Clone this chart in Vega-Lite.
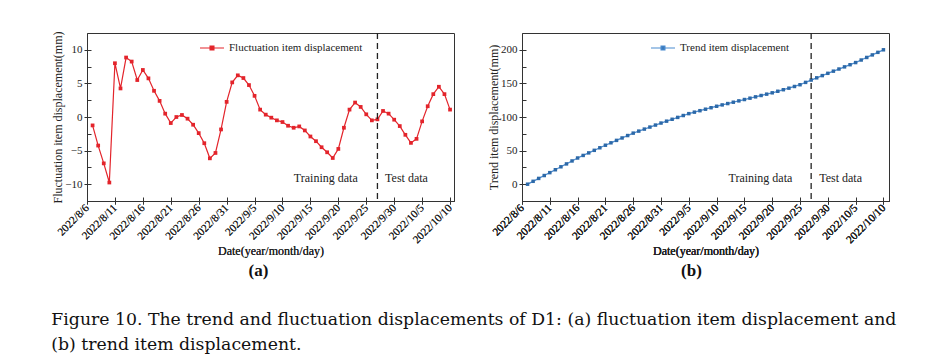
{
  "$schema": "https://vega.github.io/schema/vega-lite/v6.json",
  "background": "white",
  "padding": {"left": 51, "top": 30, "right": 5, "bottom": 5},
  "bounds": "flush",
  "spacing": 68,
  "resolve": {"scale": {"color": "independent"}, "legend": {"color": "independent"}},
  "title": {
    "text": ["Figure 10. The trend and fluctuation displacements of D1: (a) fluctuation item displacement and", "(b) trend item displacement."],
    "orient": "bottom", "anchor": "start", "frame": "bounds",
    "font": "DejaVu Serif", "fontSize": 17.3, "fontWeight": "normal", "lineHeight": 25, "color": "#111", "offset": 32
  },
  "config": {
    "view": {"stroke": "#333", "strokeWidth": 1},
    "axis": {"labelFont": "Liberation Serif", "titleFont": "Liberation Serif", "labelFontSize": 11, "titleFontSize": 12, "titleFontWeight": "normal", "labelColor": "#222", "titleColor": "#222", "domainColor": "#333", "tickColor": "#333", "grid": false, "tickSize": 3},
    "legend": {"labelFont": "Liberation Serif", "labelFontSize": 11, "labelColor": "#222", "padding": 0, "title": null},
    "text": {"font": "Liberation Serif"}
  },
  "datasets": {
    "fluct": [
      {"date": "2022-08-07", "value": -1.25}, {"date": "2022-08-08", "value": -4.25}, {"date": "2022-08-09", "value": -6.9}, {"date": "2022-08-10", "value": -9.75},
      {"date": "2022-08-11", "value": 8.0}, {"date": "2022-08-12", "value": 4.25}, {"date": "2022-08-13", "value": 8.85}, {"date": "2022-08-14", "value": 8.25},
      {"date": "2022-08-15", "value": 5.5}, {"date": "2022-08-16", "value": 7.0}, {"date": "2022-08-17", "value": 5.75}, {"date": "2022-08-18", "value": 3.9},
      {"date": "2022-08-19", "value": 2.4}, {"date": "2022-08-20", "value": 0.5}, {"date": "2022-08-21", "value": -0.9}, {"date": "2022-08-22", "value": 0.0},
      {"date": "2022-08-23", "value": 0.3}, {"date": "2022-08-24", "value": -0.25}, {"date": "2022-08-25", "value": -1.15}, {"date": "2022-08-26", "value": -2.4},
      {"date": "2022-08-27", "value": -3.9}, {"date": "2022-08-28", "value": -6.15}, {"date": "2022-08-29", "value": -5.35}, {"date": "2022-08-30", "value": -1.85},
      {"date": "2022-08-31", "value": 2.25}, {"date": "2022-09-01", "value": 5.15}, {"date": "2022-09-02", "value": 6.2}, {"date": "2022-09-03", "value": 5.8},
      {"date": "2022-09-04", "value": 4.75}, {"date": "2022-09-05", "value": 3.15}, {"date": "2022-09-06", "value": 1.1}, {"date": "2022-09-07", "value": 0.35},
      {"date": "2022-09-08", "value": -0.1}, {"date": "2022-09-09", "value": -0.5}, {"date": "2022-09-10", "value": -0.75}, {"date": "2022-09-11", "value": -1.3},
      {"date": "2022-09-12", "value": -1.6}, {"date": "2022-09-13", "value": -1.4}, {"date": "2022-09-14", "value": -2.0}, {"date": "2022-09-15", "value": -2.9},
      {"date": "2022-09-16", "value": -3.6}, {"date": "2022-09-17", "value": -4.5}, {"date": "2022-09-18", "value": -5.25}, {"date": "2022-09-19", "value": -6.1},
      {"date": "2022-09-20", "value": -4.75}, {"date": "2022-09-21", "value": -1.6}, {"date": "2022-09-22", "value": 1.1}, {"date": "2022-09-23", "value": 2.15},
      {"date": "2022-09-24", "value": 1.5}, {"date": "2022-09-25", "value": 0.4}, {"date": "2022-09-26", "value": -0.5}, {"date": "2022-09-27", "value": -0.35},
      {"date": "2022-09-28", "value": 0.9}, {"date": "2022-09-29", "value": 0.5}, {"date": "2022-09-30", "value": -0.4}, {"date": "2022-10-01", "value": -1.35},
      {"date": "2022-10-02", "value": -2.65}, {"date": "2022-10-03", "value": -3.85}, {"date": "2022-10-04", "value": -3.25}, {"date": "2022-10-05", "value": -0.65},
      {"date": "2022-10-06", "value": 1.6}, {"date": "2022-10-07", "value": 3.4}, {"date": "2022-10-08", "value": 4.5}, {"date": "2022-10-09", "value": 3.4},
      {"date": "2022-10-10", "value": 1.1}
    ],
    "trend": [
      {"date": "2022-08-07", "value": 0}, {"date": "2022-08-08", "value": 4.3}, {"date": "2022-08-09", "value": 8.6}, {"date": "2022-08-10", "value": 12.9},
      {"date": "2022-08-11", "value": 17.2}, {"date": "2022-08-12", "value": 21.5}, {"date": "2022-08-13", "value": 25.9}, {"date": "2022-08-14", "value": 30.2},
      {"date": "2022-08-15", "value": 34.6}, {"date": "2022-08-16", "value": 39}, {"date": "2022-08-17", "value": 42.8}, {"date": "2022-08-18", "value": 46.6},
      {"date": "2022-08-19", "value": 50.4}, {"date": "2022-08-20", "value": 54.2}, {"date": "2022-08-21", "value": 58}, {"date": "2022-08-22", "value": 61.6},
      {"date": "2022-08-23", "value": 65.2}, {"date": "2022-08-24", "value": 68.8}, {"date": "2022-08-25", "value": 72.4}, {"date": "2022-08-26", "value": 76},
      {"date": "2022-08-27", "value": 79}, {"date": "2022-08-28", "value": 82}, {"date": "2022-08-29", "value": 85}, {"date": "2022-08-30", "value": 88},
      {"date": "2022-08-31", "value": 91}, {"date": "2022-09-01", "value": 93.8}, {"date": "2022-09-02", "value": 96.6}, {"date": "2022-09-03", "value": 99.4},
      {"date": "2022-09-04", "value": 102.2}, {"date": "2022-09-05", "value": 105}, {"date": "2022-09-06", "value": 107.2}, {"date": "2022-09-07", "value": 109.4},
      {"date": "2022-09-08", "value": 111.6}, {"date": "2022-09-09", "value": 113.8}, {"date": "2022-09-10", "value": 116}, {"date": "2022-09-11", "value": 118},
      {"date": "2022-09-12", "value": 120}, {"date": "2022-09-13", "value": 122}, {"date": "2022-09-14", "value": 124}, {"date": "2022-09-15", "value": 126},
      {"date": "2022-09-16", "value": 128}, {"date": "2022-09-17", "value": 130}, {"date": "2022-09-18", "value": 132}, {"date": "2022-09-19", "value": 134},
      {"date": "2022-09-20", "value": 136}, {"date": "2022-09-21", "value": 138.3}, {"date": "2022-09-22", "value": 140.6}, {"date": "2022-09-23", "value": 142.9},
      {"date": "2022-09-24", "value": 145.4}, {"date": "2022-09-25", "value": 148}, {"date": "2022-09-26", "value": 151.5}, {"date": "2022-09-27", "value": 155},
      {"date": "2022-09-28", "value": 158.3}, {"date": "2022-09-29", "value": 161.6}, {"date": "2022-09-30", "value": 165}, {"date": "2022-10-01", "value": 168.2},
      {"date": "2022-10-02", "value": 171.4}, {"date": "2022-10-03", "value": 174.6}, {"date": "2022-10-04", "value": 177.8}, {"date": "2022-10-05", "value": 181},
      {"date": "2022-10-06", "value": 184.8}, {"date": "2022-10-07", "value": 188.6}, {"date": "2022-10-08", "value": 192.4}, {"date": "2022-10-09", "value": 196.2},
      {"date": "2022-10-10", "value": 200}
    ],
    "split": [{"date": "2022-09-27"}],
    "notesA": [
      {"date": "2022-09-17T18:00:00Z", "value": -9.05, "label": "Training data"},
      {"date": "2022-10-02T05:00:00Z", "value": -9.05, "label": "Test data"}
    ],
    "notesB": [
      {"date": "2022-09-17T21:00:00Z", "value": 9.5, "label": "Training data"},
      {"date": "2022-10-02T07:00:00Z", "value": 9.5, "label": "Test data"}
    ]
  },
  "hconcat": [
    {
      "width": 367, "height": 168,
      "title": {"text": "(a)", "orient": "bottom", "font": "Liberation Serif", "fontSize": 17, "fontWeight": "bold", "color": "#111", "offset": 6, "dx": -12},
      "resolve": {"axis": {"x": "independent", "y": "independent"}},
      "encoding": {
        "x": {"field": "date", "type": "temporal", "title": "Date(year/month/day)",
          "scale": {"type": "utc", "nice": false, "domain": [{"year": 2022, "month": 8, "date": 6, "utc": true}, {"year": 2022, "month": 10, "date": 10, "hours": 17, "utc": true}]},
          "axis": {"orient": "bottom", "format": "%Y/%-m/%-d", "labelAngle": -45, "labelAlign": "right", "labelBaseline": "middle", "labelPadding": 2, "titlePadding": 1, "labelOverlap": false,
            "values": [{"year": 2022, "month": 8, "date": 6, "utc": true}, {"year": 2022, "month": 8, "date": 11, "utc": true}, {"year": 2022, "month": 8, "date": 16, "utc": true}, {"year": 2022, "month": 8, "date": 21, "utc": true}, {"year": 2022, "month": 8, "date": 26, "utc": true}, {"year": 2022, "month": 8, "date": 31, "utc": true}, {"year": 2022, "month": 9, "date": 5, "utc": true}, {"year": 2022, "month": 9, "date": 10, "utc": true}, {"year": 2022, "month": 9, "date": 15, "utc": true}, {"year": 2022, "month": 9, "date": 20, "utc": true}, {"year": 2022, "month": 9, "date": 25, "utc": true}, {"year": 2022, "month": 9, "date": 30, "utc": true}, {"year": 2022, "month": 10, "date": 5, "utc": true}, {"year": 2022, "month": 10, "date": 10, "utc": true}]}}
      },
      "layer": [
        {
          "data": {"name": "fluct"},
          "mark": {"type": "line", "strokeWidth": 1.2, "point": {"shape": "square", "size": 14, "filled": true}},
          "encoding": {
            "y": {"field": "value", "type": "quantitative", "title": "Fluctuation item displacement(mm)",
              "scale": {"domain": [-12.5, 12.5], "nice": false, "zero": false},
              "axis": {"orient": "left", "values": [-10, -5, 0, 5, 10], "labelPadding": 2, "titlePadding": 0}},
            "color": {"datum": "Fluctuation item displacement", "scale": {"range": ["#e3242b"]},
              "legend": {"orient": "none", "legendX": 112, "legendY": 2, "symbolType": "M-1,0L1,0M-0.16,-0.16L0.16,-0.16L0.16,0.16L-0.16,0.16Z", "symbolSize": 576, "symbolStrokeWidth": 1.2, "symbolFillColor": "#e3242b", "symbolStrokeColor": "#e3242b", "labelOffset": 4}}
          }
        },
        {
          "data": {"name": "split"},
          "mark": {"type": "rule", "strokeDash": [6, 4], "strokeWidth": 1.3, "color": "#222"},
          "encoding": {}
        },
        {
          "data": {"name": "notesA"},
          "mark": {"type": "text", "fontSize": 12, "color": "#222", "align": "center", "baseline": "middle"},
          "encoding": {
            "x": {"field": "date", "type": "temporal", "scale": {"type": "utc"},
              "axis": {"orient": "bottom", "tickSize": -4, "labels": false, "domain": false, "title": null,
                "values": [{"year": 2022, "month": 8, "date": 11, "utc": true}, {"year": 2022, "month": 8, "date": 16, "utc": true}, {"year": 2022, "month": 8, "date": 21, "utc": true}, {"year": 2022, "month": 8, "date": 26, "utc": true}, {"year": 2022, "month": 8, "date": 31, "utc": true}, {"year": 2022, "month": 9, "date": 5, "utc": true}, {"year": 2022, "month": 9, "date": 10, "utc": true}, {"year": 2022, "month": 9, "date": 15, "utc": true}, {"year": 2022, "month": 9, "date": 20, "utc": true}, {"year": 2022, "month": 9, "date": 25, "utc": true}, {"year": 2022, "month": 9, "date": 30, "utc": true}, {"year": 2022, "month": 10, "date": 5, "utc": true}, {"year": 2022, "month": 10, "date": 10, "utc": true}]}},
            "y": {"field": "value", "type": "quantitative",
              "axis": {"orient": "left", "tickSize": -4, "labels": false, "domain": false, "title": null, "values": [-10, -7.5, -5, -2.5, 0, 2.5, 5, 7.5, 10]}},
            "text": {"field": "label"}
          }
        }
      ]
    },
    {
      "width": 367, "height": 168,
      "title": {"text": "(b)", "orient": "bottom", "font": "Liberation Serif", "fontSize": 17, "fontWeight": "bold", "color": "#111", "offset": 6, "dx": -14},
      "resolve": {"axis": {"x": "independent", "y": "independent"}},
      "encoding": {
        "x": {"field": "date", "type": "temporal", "title": "Date(year/month/day)",
          "scale": {"type": "utc", "nice": false, "domain": [{"year": 2022, "month": 8, "date": 6, "utc": true}, {"year": 2022, "month": 10, "date": 11, "utc": true}]},
          "axis": {"orient": "bottom", "format": "%Y/%-m/%-d", "labelAngle": -45, "labelAlign": "right", "labelBaseline": "middle", "labelPadding": 2, "titlePadding": 1, "labelOverlap": false,
            "values": [{"year": 2022, "month": 8, "date": 6, "utc": true}, {"year": 2022, "month": 8, "date": 11, "utc": true}, {"year": 2022, "month": 8, "date": 16, "utc": true}, {"year": 2022, "month": 8, "date": 21, "utc": true}, {"year": 2022, "month": 8, "date": 26, "utc": true}, {"year": 2022, "month": 8, "date": 31, "utc": true}, {"year": 2022, "month": 9, "date": 5, "utc": true}, {"year": 2022, "month": 9, "date": 10, "utc": true}, {"year": 2022, "month": 9, "date": 15, "utc": true}, {"year": 2022, "month": 9, "date": 20, "utc": true}, {"year": 2022, "month": 9, "date": 25, "utc": true}, {"year": 2022, "month": 9, "date": 30, "utc": true}, {"year": 2022, "month": 10, "date": 5, "utc": true}, {"year": 2022, "month": 10, "date": 10, "utc": true}]}}
      },
      "layer": [
        {
          "data": {"name": "trend"},
          "mark": {"type": "line", "strokeWidth": 1.3},
          "encoding": {
            "y": {"field": "value", "type": "quantitative", "title": "Trend item displacement(mm)",
              "scale": {"domain": [-25, 225], "nice": false, "zero": false},
              "axis": {"orient": "left", "values": [0, 50, 100, 150, 200], "labelPadding": 2, "titlePadding": 0}},
            "color": {"datum": "Trend item displacement", "scale": {"range": ["#4a8bd0"]},
              "legend": {"orient": "none", "legendX": 128, "legendY": 2, "symbolType": "M-1,0L1,0M-0.16,-0.16L0.16,-0.16L0.16,0.16L-0.16,0.16Z", "symbolSize": 576, "symbolStrokeWidth": 1.2, "symbolFillColor": "#2d69a8", "symbolStrokeColor": "#4a8bd0", "labelOffset": 4}}
          }
        },
        {
          "data": {"name": "trend"},
          "mark": {"type": "point", "shape": "square", "size": 12, "filled": true, "color": "#2d69a8", "opacity": 1},
          "encoding": {"y": {"field": "value", "type": "quantitative", "axis": null}}
        },
        {
          "data": {"name": "split"},
          "mark": {"type": "rule", "strokeDash": [6, 4], "strokeWidth": 1.3, "color": "#222"},
          "encoding": {}
        },
        {
          "data": {"name": "notesB"},
          "mark": {"type": "text", "fontSize": 12, "color": "#222", "align": "center", "baseline": "middle"},
          "encoding": {
            "x": {"field": "date", "type": "temporal", "scale": {"type": "utc"},
              "axis": {"orient": "bottom", "tickSize": -4, "labels": false, "domain": false, "title": null,
                "values": [{"year": 2022, "month": 8, "date": 11, "utc": true}, {"year": 2022, "month": 8, "date": 16, "utc": true}, {"year": 2022, "month": 8, "date": 21, "utc": true}, {"year": 2022, "month": 8, "date": 26, "utc": true}, {"year": 2022, "month": 8, "date": 31, "utc": true}, {"year": 2022, "month": 9, "date": 5, "utc": true}, {"year": 2022, "month": 9, "date": 10, "utc": true}, {"year": 2022, "month": 9, "date": 15, "utc": true}, {"year": 2022, "month": 9, "date": 20, "utc": true}, {"year": 2022, "month": 9, "date": 25, "utc": true}, {"year": 2022, "month": 9, "date": 30, "utc": true}, {"year": 2022, "month": 10, "date": 5, "utc": true}, {"year": 2022, "month": 10, "date": 10, "utc": true}]}},
            "y": {"field": "value", "type": "quantitative",
              "axis": {"orient": "left", "tickSize": -4, "labels": false, "domain": false, "title": null, "values": [0, 25, 50, 75, 100, 125, 150, 175, 200]}},
            "text": {"field": "label"}
          }
        }
      ]
    }
  ]
}
